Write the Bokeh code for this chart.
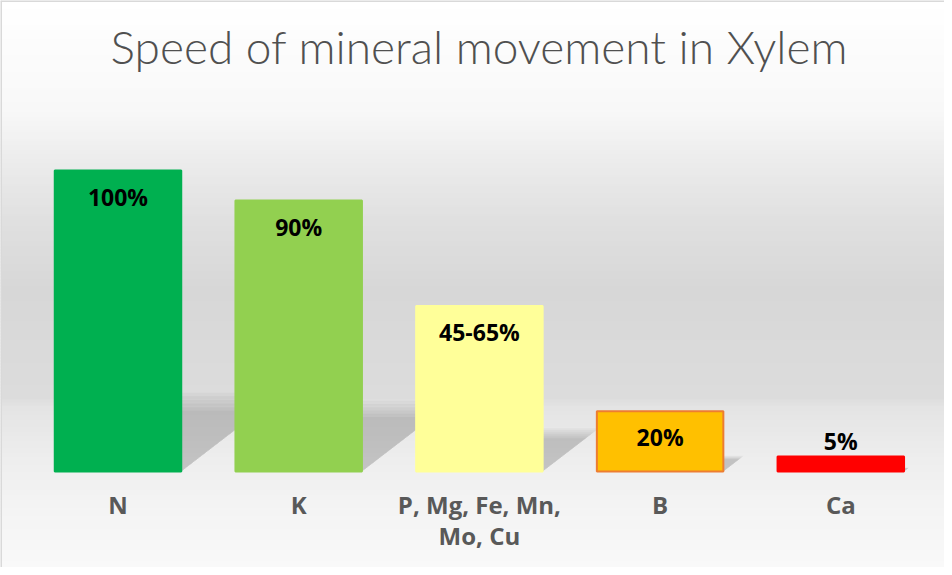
import numpy as np
from bokeh.plotting import figure
from bokeh.models import Range1d, Span, ColumnDataSource
from bokeh.core.properties import value
from bokeh.embed import file_html
from bokeh.resources import INLINE

# ---------------- data ----------------
categories = ["N", "K", "P, Mg, Fe, Mn,\nMo, Cu", "B", "Ca"]
speeds = [100, 90, 55, 20, 5]
value_labels = ["100%", "90%", "45-65%", "20%", "5%"]
bar_colors = ["#00B050", "#92D050", "#FFFF99", "#FFC000", "#FF0000"]
bar_lines = ["#00B050", "#92D050", "#FFFF99", "#ED7D31", "#FF0000"]
title_text = "Speed of mineral movement in Xylem"

# ---------------- layout (screen px inside the figure) ----------------
W, H = 944, 567
BASE_PX = 471      # baseline of bars
TOP_PX = 170       # where 100 sits
X0_PX = 117.5      # centre of first category
STEP_PX = 180.7    # distance between categories
ppy = (BASE_PX - TOP_PX) / 100.0
y_start = -(H - BASE_PX) / ppy
y_end = BASE_PX / ppy
x_start = -X0_PX / STEP_PX
x_end = (W - X0_PX) / STEP_PX


def ydata(px):
    return (BASE_PX - px) / ppy


TITLE_FONT = value("Lato Light")
LABEL_FONT = value("Open Sans")
idx = list(range(len(categories)))

p = figure(width=W, height=H, output_backend="svg", toolbar_location=None,
           x_range=Range1d(x_start, x_end), y_range=Range1d(y_start, y_end),
           x_axis_location=None, y_axis_location=None, min_border=0,
           background_fill_color="white", border_fill_color="white")
p.grid.visible = False
p.outline_line_color = None

# ---------------- background gradient ----------------
stop_px = np.array([0, 110, 160, 220, 290, 350, 397, 407, 460, 500, 567])
stop_gray = np.array([255, 248, 236, 224, 215, 218, 220, 228, 238, 243, 249])
edges = np.arange(0, H + 3, 3)
tops, bots, cols = [], [], []
for a, b in zip(edges[:-1], edges[1:]):
    g = int(round(np.interp((a + b) / 2, stop_px, stop_gray)))
    tops.append(ydata(a))
    bots.append(ydata(b + 1))
    cols.append("#%02x%02x%02x" % (g, g, g))
p.quad(left=x_start, right=x_end, top=tops, bottom=bots, fill_color=cols,
       line_color=None)

# ---------------- border (left / top) ----------------
p.add_layout(Span(location=x_start, dimension="height", line_color="#d9d9d9", line_width=3))
p.add_layout(Span(location=y_end, dimension="width", line_color="#d9d9d9", line_width=3))

# ---------------- bar shadows ----------------
BAR_W = 0.70
for k in range(6):
    scale = 0.84 + 0.05 * k
    xs, ys = [], []
    for i, v in zip(idx, speeds):
        s_px = 0.24 * v * ppy * scale
        dx = 1.3 * s_px / STEP_PX
        sh = s_px / ppy
        xl, xr = i - BAR_W / 2, i + BAR_W / 2
        xs.append([xl, xr, xr + dx, xl + dx])
        ys.append([0, 0, sh, sh])
    p.patches(xs=xs, ys=ys, fill_color="black", fill_alpha=0.032, line_color=None)

# ---------------- bars ----------------
src = ColumnDataSource(dict(x=idx, top=speeds, fill=bar_colors, line=bar_lines))
p.vbar(x="x", top="top", bottom=0, width=BAR_W, source=src,
       fill_color="fill", line_color="line", line_width=2)

# ---------------- value labels ----------------
SHIFT_V = 12   # alphabetic baseline correction of the renderer
lab_y = [v - (38 - SHIFT_V) / ppy if v * ppy > 40 else v + (3 + SHIFT_V) / ppy
         for v in speeds]
p.text(x=idx, y=lab_y, text=value_labels, text_font=LABEL_FONT, text_font_style="bold",
       text_font_size="23px", text_color="black", text_align="center",
       text_baseline="alphabetic")

# ---------------- category labels ----------------
line1 = [c.split("\n")[0] for c in categories]
line2 = [c.split("\n")[1] if "\n" in c else "" for c in categories]
p.text(x=idx, y=[ydata(514 - 10)] * len(idx), text=line1, text_font=LABEL_FONT,
       text_font_style="bold", text_font_size="24px", text_color="#595959",
       text_align="center", text_baseline="alphabetic")
p.text(x=idx, y=[ydata(546 - 11)] * len(idx), text=line2, text_font=LABEL_FONT,
       text_font_style="bold", text_font_size="24px", text_color="#595959",
       text_align="center", text_baseline="alphabetic")

# ---------------- title ----------------
p.text(x=[float(np.mean(idx))], y=[ydata(65 - 19)], text=[title_text], text_font=TITLE_FONT,
       text_font_size="46px", text_color="#505050", text_align="center",
       text_baseline="alphabetic")

open("out.html", "w").write(file_html(p, INLINE))
